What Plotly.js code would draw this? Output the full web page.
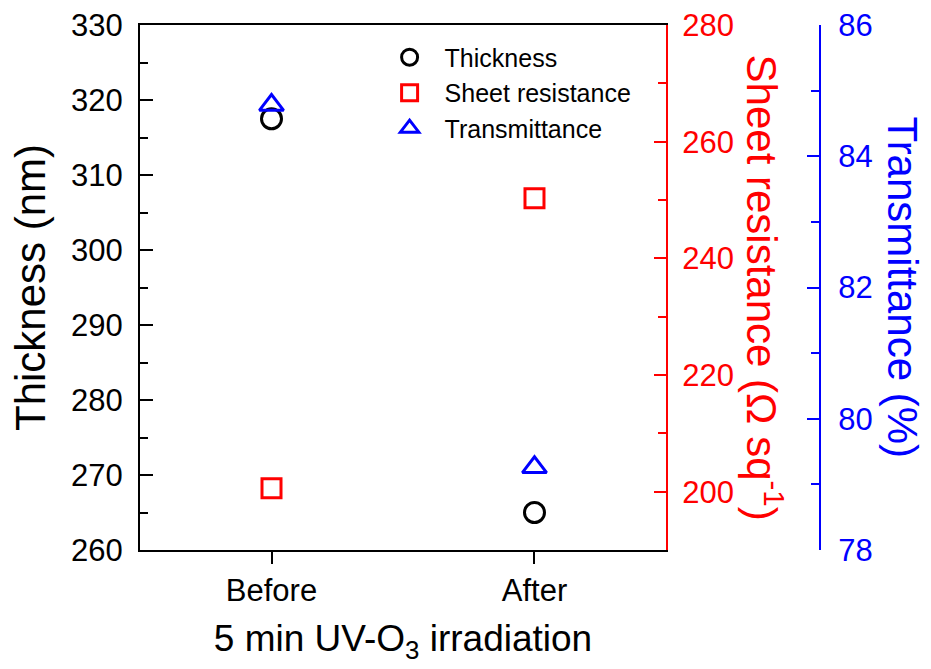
<!DOCTYPE html>
<html>
<head>
<meta charset="utf-8">
<script src="https://cdn.plot.ly/plotly-3.0.1.min.js"></script>
<style>html,body{margin:0;padding:0;background:#fff;}#chart{width:931px;height:669px;}</style>
</head>
<body>
<div id="chart"></div>
<script>
var categories = ['Before', 'After'];
var thickness = [317.5, 265.0];
var sheetResistance = [200.6, 250.3];
var transmittance = [84.78, 79.26];

var FONT = 'Liberation Sans, Arial, sans-serif';
var data = [
  {x: categories, y: thickness, name: 'Thickness', type: 'scatter', mode: 'markers',
   marker: {symbol: 'circle-open', size: 20, color: 'black', line: {width: 3, color: 'black'}}, yaxis: 'y'},
  {x: categories, y: sheetResistance, name: 'Sheet resistance', type: 'scatter', mode: 'markers',
   marker: {symbol: 'square-open', size: 19, color: '#ff0000', line: {width: 3, color: '#ff0000'}}, yaxis: 'y2'},
  {x: categories, y: transmittance, name: 'Transmittance', type: 'scatter', mode: 'markers',
   marker: {symbol: 'triangle-up-open', size: 21, color: '#0000ff', line: {width: 3, color: '#0000ff'}}, yaxis: 'y3'}
];

var layout = {
  width: 931, height: 669,
  margin: {l: 140, r: 111, t: 25, b: 119, pad: 0},
  paper_bgcolor: 'white', plot_bgcolor: 'white',
  font: {family: FONT, color: 'black'},
  showlegend: true,
  legend: {x: 0.345, y: 0.982, xanchor: 'left', yanchor: 'top', bgcolor: 'rgba(0,0,0,0)',
           font: {size: 25, family: FONT, color: 'black'}, itemwidth: 60, tracegroupgap: 0},
  xaxis: {domain: [0, 0.7735], type: 'category', range: [-0.5, 1.5],
          showline: true, linecolor: 'black', linewidth: 2, mirror: true,
          ticks: 'outside', ticklen: 12, tickwidth: 2, tickcolor: 'black',
          showgrid: false, zeroline: false,
          tickfont: {size: 31, family: FONT, color: 'black'},
          title: {text: '5 min UV-O<sub>3</sub> irradiation', font: {size: 37, family: FONT, color: 'black'}, standoff: 18}},
  yaxis: {range: [260, 330], dtick: 10, tick0: 260,
          showline: true, linecolor: 'black', linewidth: 2,
          ticks: 'inside', ticklen: 13, tickwidth: 2, tickcolor: 'black',
          minor: {dtick: 5, ticklen: 8, tickwidth: 2, tickcolor: 'black', ticks: 'inside', showgrid: false},
          showgrid: false, zeroline: false, ticklabelstandoff: 9,
          tickfont: {size: 31, family: FONT, color: 'black'},
          title: {text: 'Thickness (nm)', font: {size: 42, family: FONT, color: 'black'}, standoff: 12}},
  yaxis2: {overlaying: 'y', side: 'right', anchor: 'x', range: [190, 280], dtick: 20, tick0: 200,
           showline: true, linecolor: '#ff0000', linewidth: 2,
           ticks: 'inside', ticklen: 12, tickwidth: 2, tickcolor: '#ff0000',
           minor: {dtick: 10, ticklen: 8, tickwidth: 2, tickcolor: '#ff0000', ticks: 'inside', showgrid: false},
           showgrid: false, zeroline: false, ticklabelstandoff: 8,
           tickfont: {size: 31, family: FONT, color: '#ff0000'}},
  yaxis3: {overlaying: 'y', side: 'right', anchor: 'free', position: 1, range: [78, 86], dtick: 2, tick0: 78,
           showline: true, linecolor: '#0000ff', linewidth: 2,
           ticks: 'inside', ticklen: 12, tickwidth: 2, tickcolor: '#0000ff',
           minor: {dtick: 1, ticklen: 8, tickwidth: 2, tickcolor: '#0000ff', ticks: 'inside', showgrid: false},
           showgrid: false, zeroline: false, ticklabelstandoff: 11,
           tickfont: {size: 31, family: FONT, color: '#0000ff'}},
  annotations: [
    {text: 'Sheet resistance (Ω sq<sup>-1</sup>)', xref: 'paper', yref: 'paper', x: 0.919, y: 0.5,
     xanchor: 'center', yanchor: 'middle', textangle: 90, showarrow: false,
     font: {size: 42, family: FONT, color: '#ff0000'}},
    {text: 'Transmittance (%)', xref: 'paper', yref: 'paper', x: 1.122, y: 0.5,
     xanchor: 'center', yanchor: 'middle', textangle: 90, showarrow: false,
     font: {size: 42, family: FONT, color: '#0000ff'}}
  ]
};

Plotly.newPlot('chart', data, layout, {displayModeBar: false, staticPlot: true});
</script>
</body>
</html>
